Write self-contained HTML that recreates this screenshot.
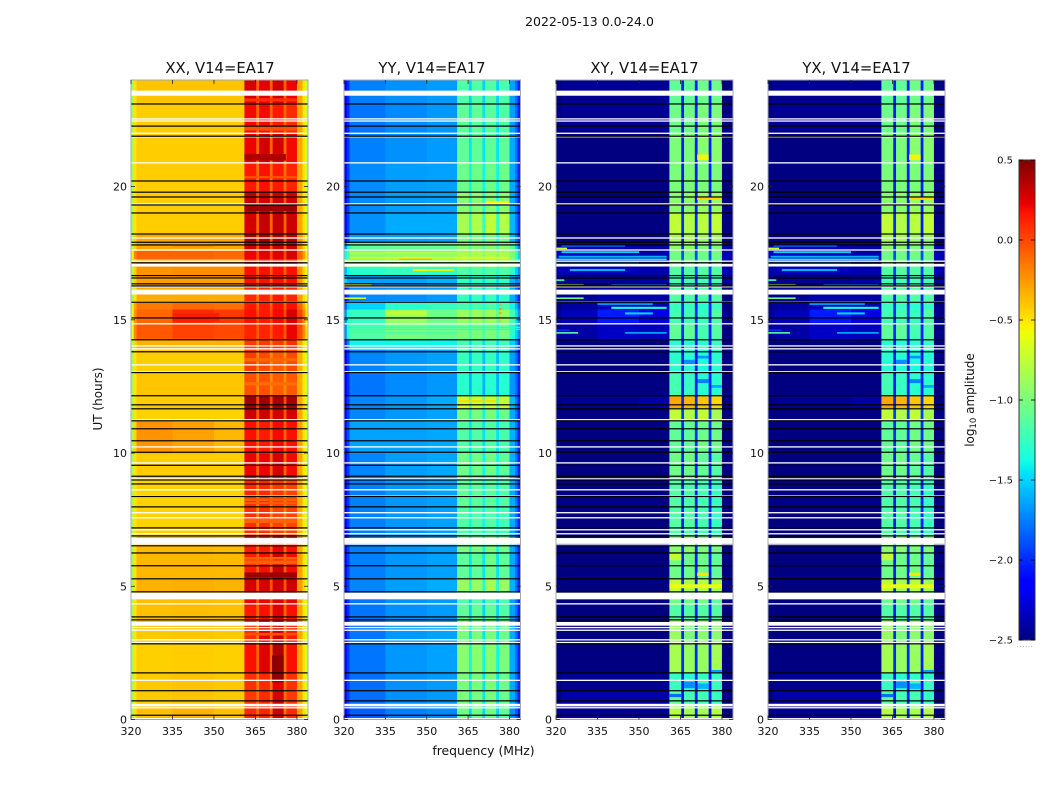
<!DOCTYPE html>
<html lang="en">
<head>
<meta charset="utf-8">
<title>2022-05-13 amplitude waterfalls</title>
<style>
html,body{margin:0;padding:0;background:#fff;}
svg{display:block;}
text{font-family:"DejaVu Sans","Liberation Sans",sans-serif;fill:#111;}
</style>
</head>
<body>
<svg id="chart" width="1050" height="800" viewBox="0 0 1050 800" xmlns="http://www.w3.org/2000/svg">
  <rect x="0" y="0" width="1050" height="800" fill="#fff"/>
  <text x="589.5" y="26" font-size="12.5" text-anchor="middle">2022-05-13 0.0-24.0</text>
  <text x="220" y="73" font-size="14.8" text-anchor="middle">XX, V14=EA17</text>
  <text x="432" y="73" font-size="14.8" text-anchor="middle">YY, V14=EA17</text>
  <text x="644.5" y="73" font-size="14.8" text-anchor="middle">XY, V14=EA17</text>
  <text x="856.5" y="73" font-size="14.8" text-anchor="middle">YX, V14=EA17</text>
  <text x="483.5" y="755" font-size="12.4" text-anchor="middle">frequency (MHz)</text>
  <text x="102" y="399" font-size="12" text-anchor="middle" transform="rotate(-90 102 399)">UT (hours)</text>
  <text x="974" y="400" font-size="12" text-anchor="middle" transform="rotate(-90 974 400)">log<tspan font-size="8.5" dy="2">10</tspan><tspan dy="-2"> amplitude</tspan></text>
  <text x="1017" y="647" font-size="5" letter-spacing="1.2" fill="#555">......</text>
  <g id="panels"></g>
  <g id="colorbar"></g>
</svg>
<script>
// Frequency bin edges in MHz
const freqEdges = [320,321,322,335,350,361,365.3,366.3,370.2,371.2,375.2,376.2,380,382,383,384];
// Time bin edges in UT hours
const hourEdges = [0,0.5,1.1,1.75,2.9,3.75,4.3,4.8,5.3,6.3,6.9,8,9.1,10,11.2,11.7,12.15,13,13.9,14.3,14.9,15.4,15.7,16.3,16.7,17,17.3,17.6,17.9,18.2,19,19.8,20.9,22,23.1,24];
const freqTicks = [320,335,350,365,380];
const hourTicks = [0,5,10,15,20];
const colorbarTicks = [0.5,0,-0.5,-1,-1.5,-2,-2.5];
const colorbarLabels = ["0.5","0.0","\u22120.5","\u22121.0","\u22121.5","\u22122.0","\u22122.5"];
// log10 amplitude in hundredths, one row per time bin, one value per frequency bin
const xxValues = [
[-85,-50,-38,-34,-38,10,-10,12,-15,30,-15,10,-28,-48,-68],
[-85,-50,-41,-39,-41,5,-12,10,-12,28,-12,5,-30,-50,-68],
[-85,-50,-41,-39,-41,8,-15,10,-15,25,-15,8,-30,-50,-68],
[-85,-50,-43,-42,-43,18,-10,25,-10,38,-12,18,-30,-50,-68],
[-85,-50,-41,-40,-41,8,-15,25,-15,28,-15,15,-30,-50,-68],
[-85,-50,-38,-37,-38,15,-10,18,-10,25,-10,18,-28,-50,-68],
[-85,-50,-38,-37,-38,22,-5,22,-5,25,-5,22,-28,-50,-68],
[-85,-50,-33,-32,-34,28,-5,28,-5,30,-5,30,-26,-46,-66],
[-85,-50,-35,-35,-36,15,-8,18,-8,30,-8,20,-28,-50,-68],
[-85,-50,-36,-36,-37,15,-10,15,-10,22,-10,18,-30,-50,-68],
[-85,-50,-44,-44,-44,8,-18,8,-18,2,-18,2,-32,-52,-70],
[-85,-50,-44,-44,-44,10,-15,10,-15,5,-15,2,-32,-52,-70],
[-85,-50,-42,-42,-42,22,-10,22,-10,28,-10,20,-30,-50,-70],
[-85,-45,-24,-28,-35,18,-8,15,-8,20,-8,18,-28,-50,-70],
[-85,-50,-44,-44,-44,30,-5,30,-5,28,-5,28,-30,-52,-70],
[-85,-50,-42,-42,-42,42,0,42,0,40,0,40,-30,-50,-70],
[-85,-50,-40,-40,-40,-2,-22,-2,-22,-6,-22,-5,-32,-52,-70],
[-85,-50,-42,-42,-42,4,-20,0,-22,-5,-22,0,-32,-52,-70],
[-80,-45,-34,-34,-34,5,-20,5,-20,5,-20,8,-30,-50,-66],
[-60,-20,-5,2,0,12,-5,12,-5,15,-5,22,0,-22,-48],
[-60,-25,-10,10,5,18,0,15,0,20,0,28,2,-20,-48],
[-65,-30,-15,-10,-12,15,-8,15,-8,18,-8,18,-10,-32,-54],
[-85,-50,-32,-32,-32,10,-15,12,-15,15,-15,12,-27,-46,-64],
[-80,-45,-28,-28,-28,18,-8,18,-8,18,-8,18,-24,-44,-64],
[-80,-42,-24,-22,-22,18,-8,18,-8,18,-8,18,-22,-42,-62],
[-80,-45,-30,-30,-30,12,-10,12,-10,12,-10,12,-26,-46,-64],
[-55,-20,-8,-8,-10,22,0,25,0,25,0,28,-8,-26,-50],
[-80,-45,-30,-32,-30,30,-5,30,-5,30,-5,30,-24,-44,-64],
[-80,-45,-30,-30,-30,40,-5,40,-5,38,-5,35,-24,-44,-64],
[-85,-50,-42,-42,-42,28,-10,32,-10,32,-10,30,-30,-50,-70],
[-85,-50,-42,-42,-42,32,-5,28,-5,30,-5,28,-30,-50,-70],
[-85,-50,-42,-42,-42,15,-12,18,-12,15,-12,12,-30,-50,-70],
[-85,-50,-42,-42,-42,22,-10,28,-10,28,-10,20,-30,-50,-70],
[-85,-50,-42,-42,-42,20,-10,20,-10,15,-10,10,-30,-50,-70],
[-85,-50,-39,-39,-39,28,-8,25,-8,30,-8,22,-30,-50,-70]
];
const yyValues = [
[-215,-200,-185,-175,-172,-105,-150,-105,-150,-105,-150,-110,-170,-185,-205],
[-210,-195,-180,-170,-167,-100,-145,-100,-145,-100,-145,-105,-162,-180,-200],
[-210,-195,-180,-170,-167,-100,-145,-100,-145,-100,-145,-105,-162,-180,-200],
[-210,-195,-178,-168,-165,-95,-140,-95,-140,-95,-140,-100,-162,-180,-200],
[-210,-195,-178,-168,-165,-100,-145,-100,-145,-100,-145,-105,-162,-180,-200],
[-215,-200,-178,-170,-167,-110,-150,-110,-150,-110,-150,-115,-165,-180,-202],
[-215,-200,-178,-170,-167,-115,-150,-115,-150,-115,-150,-118,-165,-180,-202],
[-210,-195,-173,-166,-162,-90,-135,-90,-135,-85,-135,-90,-160,-178,-200],
[-210,-195,-175,-168,-165,-110,-145,-110,-145,-105,-145,-110,-162,-180,-200],
[-210,-195,-175,-168,-165,-100,-140,-100,-140,-100,-140,-105,-162,-180,-200],
[-213,-198,-175,-168,-165,-115,-140,-115,-140,-115,-140,-120,-162,-180,-200],
[-213,-198,-175,-168,-165,-110,-140,-110,-140,-112,-140,-115,-162,-180,-200],
[-210,-195,-173,-166,-163,-105,-140,-105,-140,-105,-140,-110,-160,-178,-200],
[-208,-192,-165,-165,-163,-115,-145,-115,-145,-115,-145,-118,-160,-178,-200],
[-210,-195,-173,-168,-165,-100,-140,-100,-140,-100,-140,-105,-162,-180,-200],
[-210,-195,-173,-168,-162,-70,-110,-70,-110,-72,-110,-75,-158,-178,-200],
[-215,-200,-178,-172,-168,-130,-160,-130,-160,-130,-160,-132,-168,-182,-202],
[-213,-198,-173,-168,-165,-125,-155,-125,-155,-125,-155,-128,-165,-180,-202],
[-200,-175,-140,-140,-140,-120,-145,-120,-145,-120,-145,-122,-150,-170,-195],
[-170,-130,-115,-100,-105,-100,-120,-100,-120,-100,-120,-100,-130,-150,-170],
[-170,-135,-125,-90,-105,-90,-110,-90,-110,-90,-110,-90,-120,-145,-170],
[-185,-155,-150,-130,-125,-120,-135,-120,-135,-118,-135,-120,-140,-160,-185],
[-210,-195,-172,-170,-167,-125,-150,-125,-150,-125,-150,-128,-162,-180,-200],
[-150,-165,-165,-165,-160,-125,-145,-125,-145,-125,-145,-125,-160,-175,-170],
[-160,-140,-130,-125,-130,-115,-130,-115,-130,-115,-130,-115,-130,-150,-170],
[-100,-90,-100,-95,-95,-90,-100,-90,-100,-85,-100,-90,-95,-110,-130],
[-140,-115,-100,-95,-95,-85,-100,-85,-100,-85,-100,-85,-100,-125,-150],
[-170,-135,-110,-108,-108,-95,-115,-95,-115,-95,-115,-95,-115,-150,-180],
[-210,-195,-168,-166,-165,-100,-135,-100,-135,-100,-135,-100,-158,-178,-198],
[-210,-195,-170,-162,-162,-85,-130,-82,-130,-75,-130,-80,-158,-178,-198],
[-210,-195,-172,-166,-165,-95,-135,-95,-135,-95,-135,-95,-162,-180,-200],
[-210,-195,-172,-166,-165,-105,-140,-105,-140,-105,-140,-105,-162,-180,-200],
[-213,-198,-175,-170,-167,-110,-145,-110,-145,-110,-145,-110,-162,-180,-200],
[-215,-200,-178,-172,-168,-110,-145,-110,-145,-112,-145,-115,-165,-182,-202],
[-215,-200,-175,-170,-167,-115,-150,-115,-150,-115,-150,-118,-165,-182,-202]
];
const xyValues = [
[-250,-250,-245,-245,-245,-80,-210,-85,-205,-85,-210,-80,-250,-250,-250],
[-250,-250,-240,-240,-240,-110,-205,-120,-205,-120,-205,-125,-250,-250,-250],
[-250,-250,-245,-245,-245,-125,-205,-130,-205,-125,-210,-125,-250,-250,-250],
[-250,-250,-250,-250,-250,-85,-200,-90,-200,-90,-205,-85,-250,-250,-250],
[-250,-250,-250,-250,-250,-90,-200,-100,-200,-95,-205,-95,-250,-250,-250],
[-250,-250,-250,-250,-250,-115,-205,-115,-205,-115,-205,-115,-250,-250,-250],
[-250,-250,-250,-250,-250,-105,-205,-105,-205,-105,-205,-110,-250,-250,-250],
[-250,-250,-250,-250,-250,-75,-200,-85,-200,-80,-205,-85,-250,-250,-250],
[-250,-250,-250,-250,-250,-105,-205,-105,-205,-105,-205,-110,-250,-250,-250],
[-250,-250,-250,-250,-250,-95,-200,-95,-200,-100,-205,-100,-250,-250,-250],
[-250,-250,-250,-250,-250,-115,-205,-115,-205,-120,-205,-125,-250,-250,-250],
[-250,-250,-250,-250,-250,-115,-205,-115,-205,-120,-205,-125,-250,-250,-250],
[-250,-250,-250,-250,-250,-105,-205,-105,-205,-110,-205,-115,-250,-250,-250],
[-250,-250,-250,-250,-250,-110,-200,-110,-200,-105,-200,-105,-250,-250,-250],
[-250,-250,-250,-250,-250,-75,-195,-80,-195,-75,-195,-85,-250,-250,-250],
[-250,-250,-245,-245,-240,-30,-200,-35,-200,-40,-200,-45,-250,-250,-250],
[-250,-250,-250,-250,-250,-120,-205,-125,-205,-130,-205,-130,-250,-250,-250],
[-250,-250,-250,-250,-250,-130,-205,-130,-210,-135,-210,-130,-250,-250,-250],
[-250,-250,-250,-250,-250,-130,-205,-130,-205,-130,-205,-125,-250,-250,-250],
[-245,-245,-240,-232,-235,-110,-200,-110,-200,-120,-205,-115,-248,-250,-250],
[-245,-245,-235,-205,-225,-120,-200,-120,-200,-125,-205,-115,-245,-250,-250],
[-248,-248,-242,-235,-238,-125,-200,-125,-205,-130,-205,-125,-248,-250,-250],
[-250,-250,-245,-240,-240,-115,-205,-115,-205,-115,-205,-115,-250,-250,-250],
[-235,-240,-245,-245,-240,-120,-205,-120,-205,-120,-205,-120,-245,-240,-245],
[-240,-240,-235,-235,-238,-115,-195,-115,-195,-115,-195,-115,-235,-240,-240],
[-225,-230,-232,-232,-235,-100,-180,-100,-180,-105,-185,-105,-232,-235,-240],
[-230,-232,-232,-235,-238,-105,-190,-105,-190,-105,-190,-105,-235,-238,-240],
[-238,-240,-238,-238,-240,-95,-200,-95,-200,-100,-200,-100,-240,-240,-242],
[-250,-250,-250,-250,-250,-85,-205,-85,-205,-90,-205,-90,-250,-250,-250],
[-250,-250,-250,-250,-250,-75,-200,-80,-200,-78,-205,-75,-250,-250,-250],
[-250,-250,-250,-250,-250,-95,-205,-95,-205,-90,-205,-90,-250,-250,-250],
[-250,-250,-250,-250,-250,-100,-205,-100,-205,-100,-205,-100,-250,-250,-250],
[-250,-250,-250,-250,-250,-100,-205,-100,-205,-95,-205,-95,-250,-250,-250],
[-250,-250,-245,-245,-245,-105,-205,-105,-205,-100,-205,-100,-250,-250,-250],
[-250,-250,-245,-245,-245,-110,-205,-110,-205,-105,-205,-105,-250,-250,-250]
];
const yxValues = [
[-250,-250,-245,-245,-245,-80,-210,-85,-205,-85,-210,-80,-250,-250,-250],
[-250,-250,-240,-240,-240,-110,-205,-120,-205,-120,-205,-125,-250,-250,-250],
[-250,-250,-245,-245,-245,-125,-205,-130,-205,-125,-210,-125,-250,-250,-250],
[-250,-250,-250,-250,-250,-85,-200,-90,-200,-90,-205,-85,-250,-250,-250],
[-250,-250,-250,-250,-250,-90,-200,-100,-200,-95,-205,-95,-250,-250,-250],
[-250,-250,-250,-250,-250,-115,-205,-115,-205,-115,-205,-115,-250,-250,-250],
[-250,-250,-250,-250,-250,-105,-205,-105,-205,-105,-205,-110,-250,-250,-250],
[-250,-250,-250,-250,-250,-75,-200,-85,-200,-80,-205,-85,-250,-250,-250],
[-250,-250,-250,-250,-250,-105,-205,-105,-205,-105,-205,-110,-250,-250,-250],
[-250,-250,-250,-250,-250,-95,-200,-95,-200,-100,-205,-100,-250,-250,-250],
[-250,-250,-250,-250,-250,-115,-205,-115,-205,-120,-205,-125,-250,-250,-250],
[-250,-250,-250,-250,-250,-115,-205,-115,-205,-120,-205,-125,-250,-250,-250],
[-250,-250,-250,-250,-250,-105,-205,-105,-205,-110,-205,-115,-250,-250,-250],
[-250,-250,-250,-250,-250,-110,-200,-110,-200,-105,-200,-105,-250,-250,-250],
[-250,-250,-250,-250,-250,-75,-195,-80,-195,-75,-195,-85,-250,-250,-250],
[-250,-250,-245,-245,-240,-30,-200,-35,-200,-40,-200,-45,-250,-250,-250],
[-250,-250,-250,-250,-250,-120,-205,-125,-205,-130,-205,-130,-250,-250,-250],
[-250,-250,-250,-250,-250,-130,-205,-130,-210,-135,-210,-130,-250,-250,-250],
[-250,-250,-250,-250,-250,-130,-205,-130,-205,-130,-205,-125,-250,-250,-250],
[-245,-245,-240,-232,-235,-110,-200,-110,-200,-120,-205,-115,-248,-250,-250],
[-245,-245,-235,-205,-225,-120,-200,-120,-200,-125,-205,-115,-245,-250,-250],
[-248,-248,-242,-235,-238,-125,-200,-125,-205,-130,-205,-125,-248,-250,-250],
[-250,-250,-245,-240,-240,-115,-205,-115,-205,-115,-205,-115,-250,-250,-250],
[-235,-240,-245,-245,-240,-120,-205,-120,-205,-120,-205,-120,-245,-240,-245],
[-240,-240,-235,-235,-238,-115,-195,-115,-195,-115,-195,-115,-235,-240,-240],
[-225,-230,-232,-232,-235,-100,-180,-100,-180,-105,-185,-105,-232,-235,-240],
[-230,-232,-232,-235,-238,-105,-190,-105,-190,-105,-190,-105,-235,-238,-240],
[-238,-240,-238,-238,-240,-95,-200,-95,-200,-100,-200,-100,-240,-240,-242],
[-250,-250,-250,-250,-250,-85,-205,-85,-205,-90,-205,-90,-250,-250,-250],
[-250,-250,-250,-250,-250,-75,-200,-80,-200,-78,-205,-75,-250,-250,-250],
[-250,-250,-250,-250,-250,-95,-205,-95,-205,-90,-205,-90,-250,-250,-250],
[-250,-250,-250,-250,-250,-100,-205,-100,-205,-100,-205,-100,-250,-250,-250],
[-250,-250,-250,-250,-250,-100,-205,-100,-205,-95,-205,-95,-250,-250,-250],
[-250,-250,-245,-245,-245,-105,-205,-105,-205,-100,-205,-100,-250,-250,-250],
[-250,-250,-245,-245,-245,-110,-205,-110,-205,-105,-205,-105,-250,-250,-250]
];
// Narrow features: [UT hour, start MHz, end MHz, log10 amplitude in hundredths, duration in hours]
const xxStreaks = [
[5.42,361,380,42,0.2],[8.25,361,380,-6,0.1],[8.12,361,380,-6,0.08],[7.45,361,380,-8,0.15],[5.9,361,380,-8,0.15],
[21.1,361,376,38,0.25],[20.35,361,380,-5,0.08],[22.2,361,380,-2,0.2],[23.25,361,380,8,0.12],[1.9,371,375.2,46,1.0],
[19.2,361,380,42,0.25],[13.5,361,380,-10,0.12],[12.6,361,380,-12,0.12],[3.2,361,380,-2,0.1],[6.05,361,380,-8,0.1],
[17.75,335,350,-22,0.05],[15.1,335,352,14,0.3]
];
const yyStreaks = [
[17.5,322,380,-80,0.08],[17.33,322,380,-60,0.07],[17.27,340,352,-30,0.05],[17.05,320,330,-15,0.05],[17.05,370,378,-20,0.05],
[16.87,345,360,-60,0.08],[16.33,320,330,-60,0.06],[15.81,320,328,-65,0.06],[15.27,335,350,-75,0.15],[14.72,322,384,-130,0.05],
[14.64,322,384,-130,0.05],[15.55,376.2,377.1,-30,0.06],[15.4,376.2,377.1,-25,0.08],[15.25,376.2,377.1,-30,0.08],[15.1,376.2,377.1,-40,0.06],[14.95,376.2,377.1,-35,0.06],
[19.4,371,380,-55,0.1],[11.95,361,375,-45,0.06],[14.5,335,361,-115,0.1]
];
const xyStreaks = [
[17.78,322,345,-170,0.06],[17.68,320,324,-70,0.06],[17.54,322,350,-150,0.07],[17.37,321,360,-160,0.07],[17.27,320,360,-140,0.06],[17.14,320,350,-165,0.06],
[16.87,325,345,-160,0.08],[16.49,320,323,-120,0.06],[16.34,320,330,-80,0.06],[16.34,340,360,-165,0.06],[15.81,320,330,-105,0.06],[15.59,335,355,-170,0.07],
[15.45,340,360,-135,0.08],[15.24,345,355,-150,0.08],[14.61,320,325,-200,0.06],[14.51,320,328,-115,0.06],[14.51,345,360,-160,0.06],
[19.55,371,380,-45,0.1],[5.0,361,380,-60,0.15],[21.1,371,375.2,-55,0.2],[5.45,371,375.2,-50,0.12],[6.1,361,365.3,-75,0.25],
[1.3,366.3,370.2,-170,0.25],[0.9,361,365.3,-180,0.12],[1.25,371.2,375.2,-160,0.2],[1.8,376.2,380,-165,0.12],
[12.7,371.2,375.2,-175,0.15],[13.4,366.3,370.2,-170,0.2],[13.6,371.2,375.2,-170,0.1],[12.5,376.2,380,-165,0.1]
];
const yxStreaks = [
[17.78,322,345,-170,0.06],[17.68,320,324,-70,0.06],[17.54,322,350,-150,0.07],[17.37,321,360,-160,0.07],[17.27,320,360,-140,0.06],[17.14,320,350,-165,0.06],
[16.87,325,345,-160,0.08],[16.49,320,323,-120,0.06],[16.34,320,330,-80,0.06],[16.34,340,360,-165,0.06],[15.81,320,330,-105,0.06],[15.59,335,355,-170,0.07],
[15.45,340,360,-135,0.08],[15.24,345,355,-150,0.08],[14.61,320,325,-200,0.06],[14.51,320,328,-115,0.06],[14.51,345,360,-160,0.06],
[19.55,371,380,-45,0.1],[5.0,361,380,-60,0.15],[21.1,371,375.2,-55,0.2],[5.45,371,375.2,-50,0.12],[6.1,361,365.3,-75,0.25],
[1.3,366.3,370.2,-170,0.25],[0.9,361,365.3,-180,0.12],[1.25,371.2,375.2,-160,0.2],[1.8,376.2,380,-165,0.12],
[12.7,371.2,375.2,-175,0.15],[13.4,366.3,370.2,-170,0.2],[13.6,371.2,375.2,-170,0.1],[12.5,376.2,380,-165,0.1]
];
// Flagged integrations: UT hour of each blanked (white) and missing (black) record
const blankHours = [22.54,22.46,22.00,21.87,20.89,19.35,18.07,17.62,17.20,16.24,15.67,14.85,14.02,13.91,13.31,13.05,11.25,10.23,9.63,9.03,8.62,8.39,7.76,7.57,7.12,6.97,6.55,4.34,3.45,3.35,2.99,2.89,1.47,0.44,0.03];
const blankSpanStarts = [23.41,17.00,15.95,6.59,4.51,3.52,0.49];
const blankSpanEnds = [23.60,17.10,16.13,6.81,4.76,3.66,0.59];
const missingHours = [23.10,22.27,21.89,20.21,19.79,19.61,19.31,19.01,18.22,17.91,17.81,17.14,16.66,16.57,16.35,16.27,15.66,15.07,14.25,13.80,13.02,12.15,11.81,11.66,11.21,10.91,10.46,10.03,9.54,9.13,8.99,8.84,8.37,7.98,7.19,6.89,6.52,6.25,5.77,5.28,4.79,3.85,3.74,2.84,1.75,1.08,0.70,0.16];

const NS = "http://www.w3.org/2000/svg";
const panelDefs = [
  {key:"xx", left:131, right:308, values:xxValues, streaks:xxStreaks},
  {key:"yy", left:344, right:520.5, values:yyValues, streaks:yyStreaks},
  {key:"xy", left:556, right:733, values:xyValues, streaks:xyStreaks},
  {key:"yx", left:768, right:945, values:yxValues, streaks:yxStreaks}
];
const plotTop = 80, plotBottom = 719.5;
const freqMin = 320, freqMax = 384, hourMin = 0, hourMax = 24;
const cbarLeft = 1019, cbarRight = 1035, cbarTop = 160, cbarBottom = 640;
const valueMin = -2.5, valueMax = 0.5;

function mk(tag, attrs, parent){
  const el = document.createElementNS(NS, tag);
  for (const k in attrs) el.setAttribute(k, attrs[k]);
  parent.appendChild(el);
  return el;
}
function yScale(h){ return plotBottom - (h - hourMin) / (hourMax - hourMin) * (plotBottom - plotTop); }
function xScaleFor(p){ return f => p.left + (f - freqMin) / (freqMax - freqMin) * (p.right - p.left); }
function cbarScale(v){ return cbarBottom - (v - valueMin) / (valueMax - valueMin) * (cbarBottom - cbarTop); }
function ramp(t, pts){
  for (let i = 1; i < pts.length; i++){
    if (t <= pts[i][0]){
      const a = pts[i-1], b = pts[i];
      return a[1] + (b[1]-a[1]) * (t-a[0]) / (b[0]-a[0]);
    }
  }
  return pts[pts.length-1][1];
}
function jet(v){
  const t = Math.max(0, Math.min(1, (v - valueMin) / (valueMax - valueMin)));
  const r = ramp(t, [[0,0],[0.35,0],[0.66,1],[0.89,1],[1,0.5]]);
  const g = ramp(t, [[0,0],[0.125,0],[0.375,1],[0.64,1],[0.91,0],[1,0]]);
  const b = ramp(t, [[0,0.5],[0.11,1],[0.34,1],[0.65,0],[1,0]]);
  return "rgb(" + Math.round(r*255) + "," + Math.round(g*255) + "," + Math.round(b*255) + ")";
}

const panelsRoot = document.getElementById("panels");
panelDefs.forEach(function(p){
  const x = xScaleFor(p);
  const g = mk("g", {}, panelsRoot);
  
  
  p.values.forEach(function(row, ri){
    row.forEach(function(val, ci){
      const cell = mk("rect", {
        x: x(freqEdges[ci]),
        y: yScale(hourEdges[ri+1]),
        width: x(freqEdges[ci+1]) - x(freqEdges[ci]) + 0.4,
        height: yScale(hourEdges[ri]) - yScale(hourEdges[ri+1]) + 0.4,
        fill: jet(val / 100)
      }, g);
      
      
    });
  });
  p.streaks.forEach(function(s){
    const mark = mk("rect", {
      x: x(s[1]),
      y: yScale(s[0] + s[4] / 2),
      width: x(s[2]) - x(s[1]),
      height: yScale(s[0] - s[4] / 2) - yScale(s[0] + s[4] / 2),
      fill: jet(s[3] / 100)
    }, g);
    
    
  });
  blankHours.forEach(function(h){
    const line = mk("rect", {x:p.left, y:yScale(h)-0.65, width:p.right-p.left, height:1.3, fill:"#fff"}, g);
    
    
  });
  blankSpanStarts.forEach(function(h, i){
    const span = mk("rect", {x:p.left, y:yScale(blankSpanEnds[i]), width:p.right-p.left, height:yScale(h)-yScale(blankSpanEnds[i]), fill:"#fff"}, g);
    
    
  });
  missingHours.forEach(function(h){
    const line = mk("rect", {x:p.left, y:yScale(h)-0.6, width:p.right-p.left, height:1.2, fill:"#000"}, g);
    
    
  });
  const frame = mk("rect", {x:p.left, y:plotTop, width:p.right-p.left, height:plotBottom-plotTop, fill:"none", stroke:"#a8a8a8", "stroke-width":1}, g);
  
  
  freqTicks.forEach(function(f){
    const px = x(f);
    const t1 = mk("line", {x1:px, x2:px, y1:plotBottom, y2:plotBottom-4, stroke:"#222", "stroke-width":0.8}, g);
    
    
    const t2 = mk("line", {x1:px, x2:px, y1:plotTop, y2:plotTop+4, stroke:"#222", "stroke-width":0.8}, g);
    
    
    const lab = mk("text", {x:px, y:735, "font-size":11, "text-anchor":"middle"}, g);
    lab.textContent = String(f);
    
    
  });
  hourTicks.forEach(function(h){
    const py = yScale(h);
    const t1 = mk("line", {x1:p.left, x2:p.left+4, y1:py, y2:py, stroke:"#222", "stroke-width":0.8}, g);
    
    
    const t2 = mk("line", {x1:p.right, x2:p.right-4, y1:py, y2:py, stroke:"#222", "stroke-width":0.8}, g);
    
    
    const lab = mk("text", {x:p.left-4, y:py+4, "font-size":11, "text-anchor":"end"}, g);
    lab.textContent = String(h);
    
    
  });
});

const cb = document.getElementById("colorbar");
const cbarSteps = cbarBottom - cbarTop;
for (let i = 0; i < cbarSteps; i++){
  const v = valueMin + (i + 0.5) / cbarSteps * (valueMax - valueMin);
  const seg = mk("rect", {x:cbarLeft, y:cbarBottom-i-1, width:cbarRight-cbarLeft, height:1.2, fill:jet(v)}, cb);
  
  
}
const cbFrame = mk("rect", {x:cbarLeft, y:cbarTop, width:cbarRight-cbarLeft, height:cbarBottom-cbarTop, fill:"none", stroke:"#333", "stroke-width":1}, cb);


colorbarTicks.forEach(function(v, i){
  const py = cbarScale(v);
  const a = mk("line", {x1:cbarLeft, x2:cbarLeft+4, y1:py, y2:py, stroke:"#000", "stroke-width":0.8}, cb);
  
  
  const b = mk("line", {x1:cbarRight, x2:cbarRight-4, y1:py, y2:py, stroke:"#000", "stroke-width":0.8}, cb);
  
  
  const lab = mk("text", {x:cbarLeft-6, y:py+3.5, "font-size":10, "text-anchor":"end"}, cb);
  lab.textContent = colorbarLabels[i];
  
  
});
</script>
</body>
</html>
